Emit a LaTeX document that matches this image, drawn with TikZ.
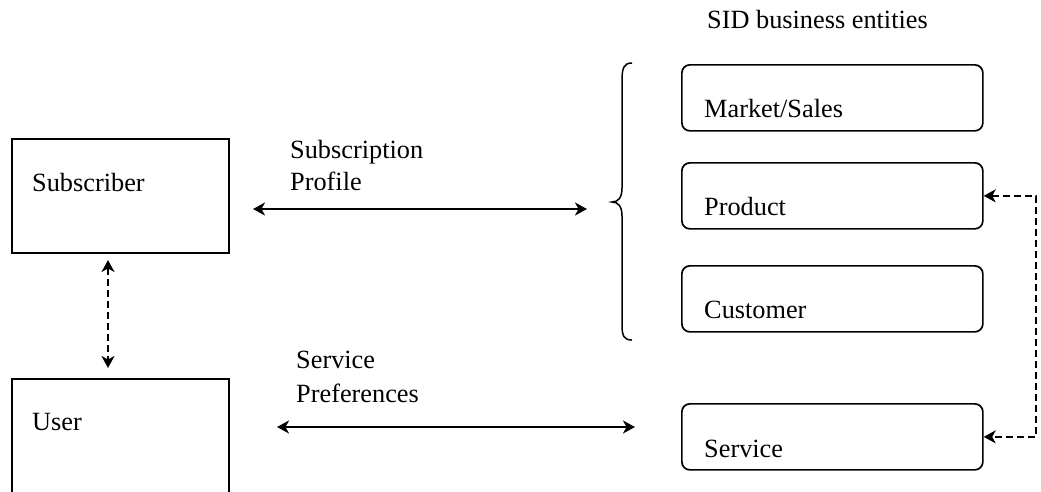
\documentclass[tikz,border=0pt]{standalone}
\usepackage{fontspec}
\setmainfont{Liberation Serif}
\usetikzlibrary{arrows.meta,calc}
\begin{document}
\begin{tikzpicture}[x=1pt,y=-1pt,
  box/.style={draw,line width=1.7pt,minimum width=217pt,inner sep=0pt,anchor=north west},
  ent/.style={draw,line width=1.7pt,rounded corners=8pt,inner sep=0pt,anchor=north west,minimum width=301pt,minimum height=66pt},
  lbl/.style={anchor=base west,inner sep=0pt,font=\fontsize{26.3}{32}\selectfont},
  link/.style={line width=1.7pt,{Stealth[length=12pt,width=13pt,inset=3.5pt]}-{Stealth[length=12pt,width=13pt,inset=3.5pt]}},
  dlink/.style={link,dash pattern=on 7pt off 4pt}]
\useasboundingbox (0,0) rectangle (1041,491);
\clip (0,0) rectangle (1041,491);
% boxes
\node[box,minimum height=114pt] (sub) at (11,138) {};
\node[box,minimum height=135pt] (user) at (11,378) {};
\node[ent] (mkt) at (681,64) {};
\node[ent] (prod) at (681,162) {};
\node[ent] (cust) at (681,265) {};
\node[ent] (serv) at (681,403) {};
% texts
\node[lbl] (tsub) at (32,191) {Subscriber};
\node[lbl] (tuser) at (32,430) {User};
\node[lbl] (tsp1) at (290,158) {Subscription};
\node[lbl] (tsp2) at (290,190) {Profile};
\node[lbl] (tsv1) at (296,368) {Service};
\node[lbl] (tsv2) at (296,402) {Preferences};
\node[lbl] (tsid) at (707,28) {SID business entities};
\node[lbl] (tmkt) at (704,117) {Market/Sales};
\node[lbl] (tprod) at (704,215) {Product};
\node[lbl] (tcust) at (704,318) {Customer};
\node[lbl] (tserv) at (704,457) {Service};
% free ends
\coordinate (sp1) at (253,209);
\coordinate (sp2) at (587,209);
\coordinate (pf1) at (277,427);
\coordinate (pf2) at (635,427);
\coordinate (v1) at (108,260);
\coordinate (v2) at (108,368);
% connectors
\draw[link] (sp1) -- (sp2);
\draw[link] (pf1) -- (pf2);
\draw[dlink] (v1) -- (v2);
\draw[dlink] (prod.east) -- ++(52,0) |- (serv.east);
% brace
\draw[line width=1.5pt] (632,63) .. controls (624,63) and (622,68) .. (622,80) -- (622,188)
  .. controls (622,198) and (618,202) .. (612,202)
  .. controls (618,202) and (622,206) .. (622,216) -- (622,325)
  .. controls (622,336) and (624,340) .. (632,340);
\end{tikzpicture}
\end{document}
